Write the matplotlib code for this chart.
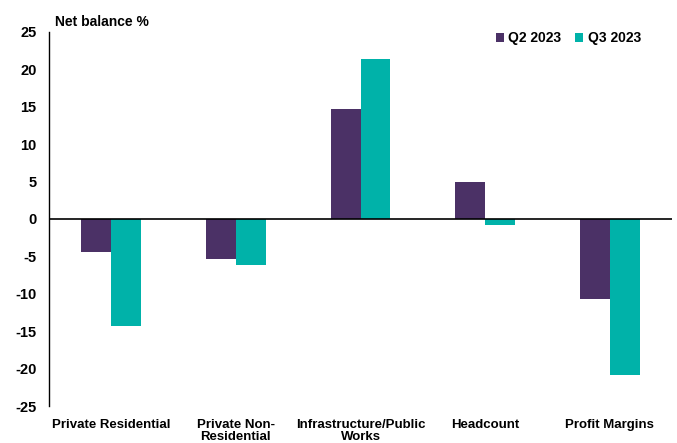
import matplotlib.pyplot as plt
import numpy as np

categories = ["Private Residential", "Private Non-\nResidential", "Infrastructure/Public\nWorks",
              "Headcount", "Profit Margins"]
q2_2023 = [-4.4, -5.3, 14.7, 5.0, -10.7]
q3_2023 = [-14.3, -6.1, 21.4, -0.8, -20.9]
yticks = [-25, -20, -15, -10, -5, 0, 5, 10, 15, 20, 25]

plt.rcParams['font.family'] = ['Liberation Sans', 'DejaVu Sans']
plt.rcParams['font.weight'] = 'bold'

purple = "#4b3166"
teal = "#00b2a9"

fig = plt.figure(figsize=(6.77, 4.43), dpi=100)
ax = fig.add_axes([0.0724, 0.0835, 0.9202, 0.8445])

x = np.arange(len(categories))
w = 0.24
ax.bar(x - w/2, q2_2023, width=w, color=purple, label="Q2 2023")
ax.bar(x + w/2, q3_2023, width=w, color=teal, label="Q3 2023")

ax.set_xlim(-0.5, len(categories) - 0.5)
ax.set_ylim(-25, 25)
ax.set_yticks(yticks)
ax.set_yticklabels([str(t) for t in yticks], fontsize=10.5, fontweight='bold')
ax.tick_params(axis='y', length=0, pad=9)
ax.axhline(0, color='black', lw=1.2)

ax.set_xticks(x)
ax.set_xticklabels(categories, fontsize=9.5, fontweight='bold', va='top', linespacing=1.05)
ax.tick_params(axis='x', length=0, pad=9)

for s in ['top', 'right', 'bottom']:
    ax.spines[s].set_visible(False)
ax.spines['left'].set_linewidth(1.0)

fig.text(0.081, 0.95, "Net balance %", fontsize=10, fontweight='bold', va='center')

ax.legend(loc='upper right', bbox_to_anchor=(0.97, 1.035), ncol=2, frameon=False,
          handlelength=0.6, handleheight=0.6, handletextpad=0.3,
          columnspacing=1.0, prop={'weight': 'bold', 'size': 10})

fig.savefig("out.png", dpi=100)
